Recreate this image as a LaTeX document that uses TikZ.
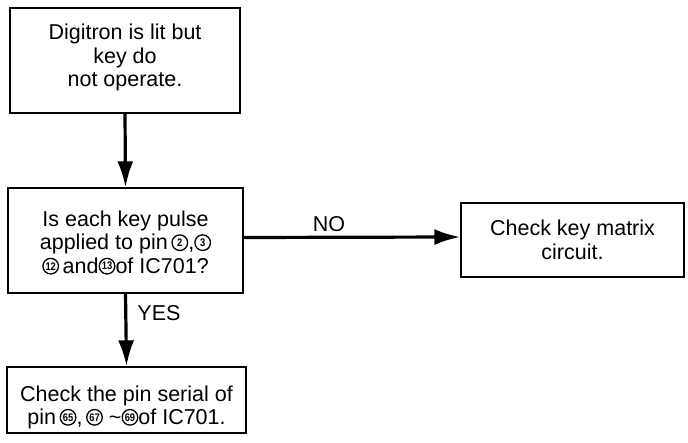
\documentclass[tikz,border=0pt]{standalone}
\usepackage{fontspec}
\setmainfont{Liberation Sans}
\usetikzlibrary{arrows.meta}
\newcommand{\cnum}[1]{\tikz[baseline=-7.2pt]{\draw[line width=1.3pt,draw=black,fill=none] (0pt,0pt) circle[radius=7.8pt];\path (0pt,0pt) node[draw=none,fill=none,inner sep=0pt,minimum width=0pt,minimum height=0pt,align=center,text width=,font=\fontsize{11}{11}\selectfont\bfseries]{\scalebox{0.85}[1]{#1}};}}
\begin{document}
\begin{tikzpicture}[x=1pt,y=-1pt,
  box/.style={draw,line width=1.3pt,align=center,inner sep=0pt,
    font=\fontsize{21.5}{23.5}\selectfont},
  arr/.style={line width=3.2pt,-{Latex[length=26pt,width=16pt]}},
  lbl/.style={font=\fontsize{21.5}{23.5}\selectfont,inner sep=0pt}]
\useasboundingbox (0,0) rectangle (688,443);
\node[box,minimum width=230pt,minimum height=105pt] (b1) at (125,60.5)
  {Digitron is lit but\\key do\\not operate.\rule[-10.5pt]{0pt}{1pt}};
\node[box,minimum width=235pt,minimum height=105pt] (b2) at (125.5,240.5)
  {\rule{0pt}{20pt}Is each key pulse\\applied to pin\,\cnum{2},\cnum{3}\\\cnum{12}\,and\cnum{13}of IC701?};
\node[box,minimum width=239pt,minimum height=66pt] (b3) at (126.5,400)
  {\rule{0pt}{30pt}Check the pin serial of\\pin\,\cnum{65},\,\cnum{67} \textasciitilde\cnum{69}of IC701.};
\node[box,minimum width=223pt,minimum height=74pt] (b4) at (572.5,240)
  {Check key matrix\\circuit.};
\draw[arr] (b1.south) -- (b2.north);
\draw[arr] ([yshift=3pt]b2.east) -- ([yshift=3pt]b4.west);
\draw[arr] (b2.south) -- (b3.north);
\node[lbl] (no) at (329,224) {NO};
\node[lbl] (yes) at (159,313) {YES};
\end{tikzpicture}
\end{document}
